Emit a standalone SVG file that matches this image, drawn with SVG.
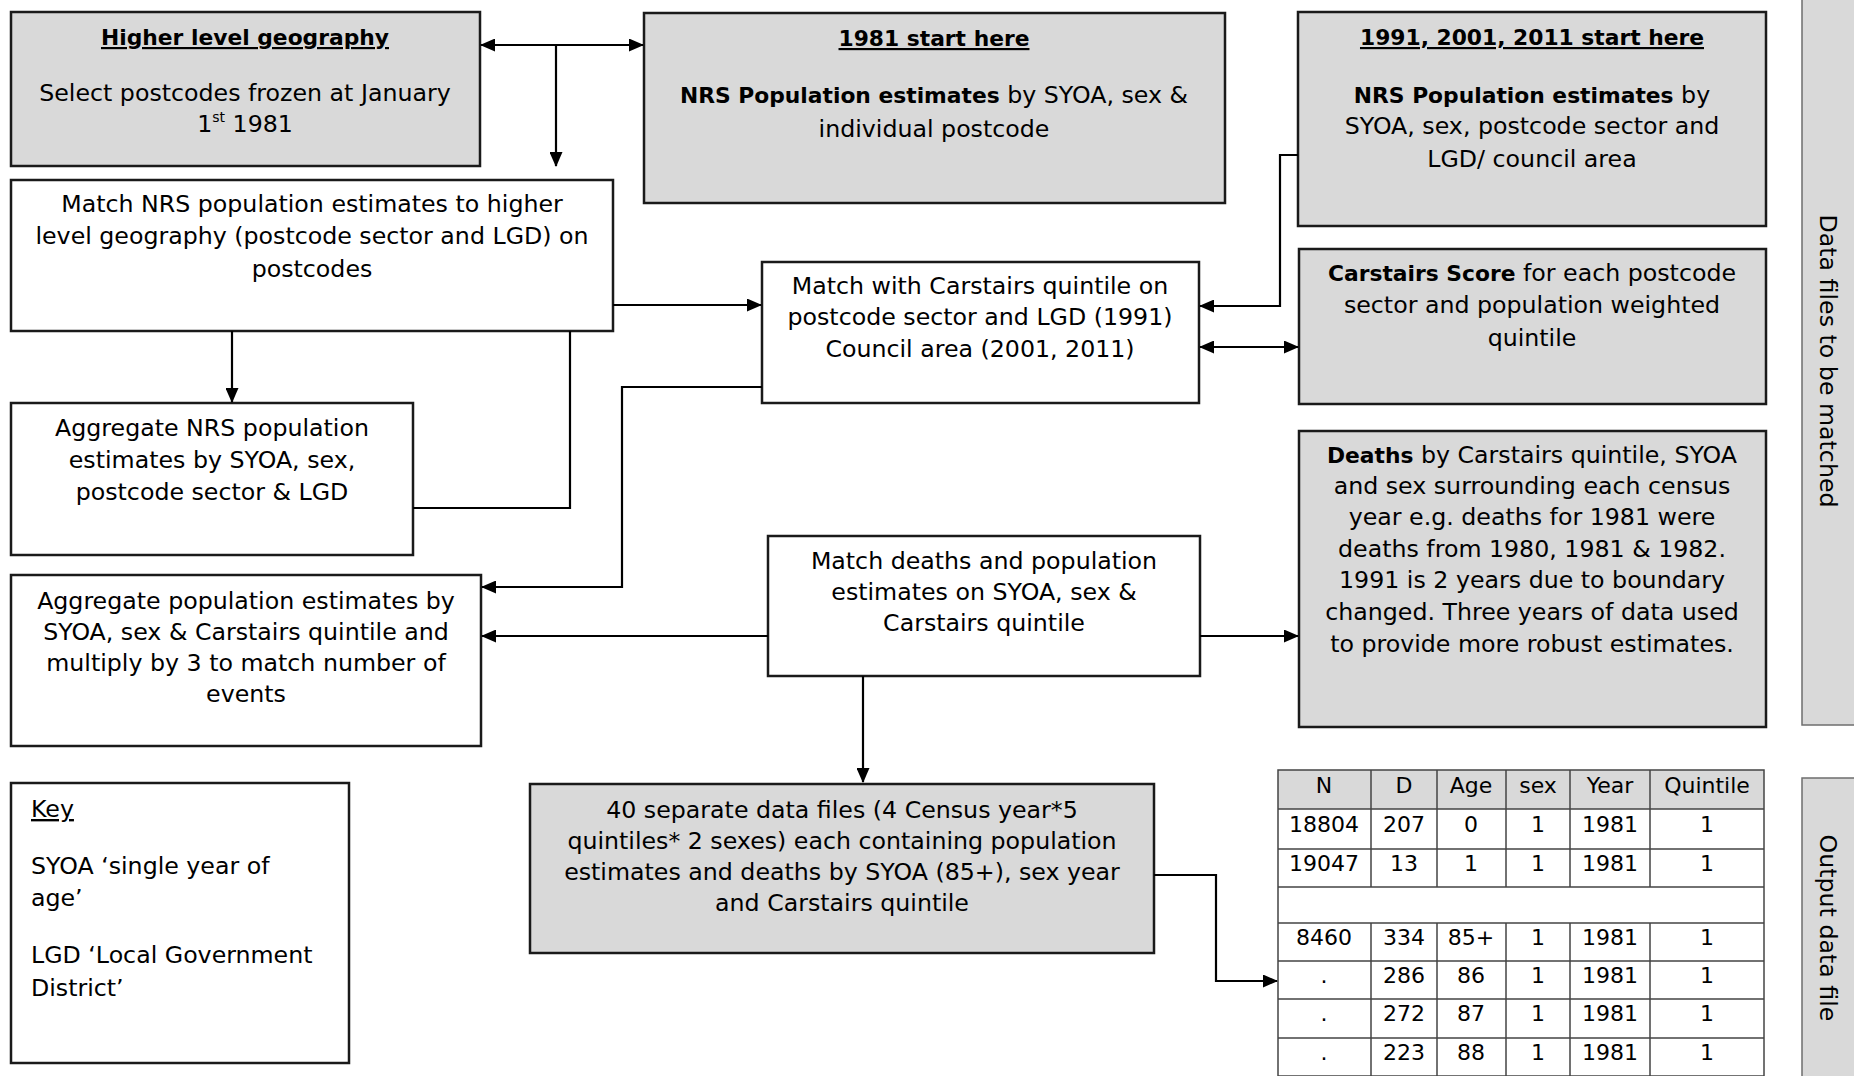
<svg xmlns="http://www.w3.org/2000/svg" width="1854" height="1076" viewBox="0 0 1854 1076">
<defs>
<marker id="ah" markerUnits="userSpaceOnUse" markerWidth="15" markerHeight="13" refX="14" refY="6.5" orient="auto-start-reverse">
<path d="M0,0 L15,6.5 L0,13 z" fill="#000"/>
</marker>
<style>
.box{stroke:#1a1a1a;stroke-width:2.5}
.g{fill:#d9d9d9}
.w{fill:#fff}
.side{fill:#d9d9d9;stroke:#6e6e6e;stroke-width:1.5}
text{font-family:"DejaVu Sans","Liberation Sans",sans-serif;font-size:23.7px;fill:#000}
.c{text-anchor:middle}
.b{font-weight:bold;font-size:21.8px}
.u{text-decoration:underline}
.con{fill:none;stroke:#000;stroke-width:2.2}
.tl{stroke:#444;stroke-width:1.5;fill:none}
.tt{font-size:22px;text-anchor:middle}
</style>
</defs>

<g id="side-data">
<rect class="side" x="1802" y="-2" width="62" height="727"/>
<text transform="translate(1828,361) rotate(90)" class="c" dominant-baseline="central" style="font-size:23.7px">Data files to be matched</text>
</g>
<g id="side-output">
<rect class="side" x="1802" y="778" width="62" height="310"/>
<text transform="translate(1828,928) rotate(90)" class="c" dominant-baseline="central" style="font-size:23.7px">Output data file</text>
</g>

<g id="nodeA">
<rect class="box g" x="11" y="12" width="469" height="154"/>
<text x="245" y="45" class="c b u">Higher level geography</text>
<text x="245" y="101" class="c">Select postcodes frozen at January</text>
<text x="245" y="132" class="c">1<tspan dy="-10" style="font-size:14px">st</tspan><tspan dy="10"> 1981</tspan></text>
</g>

<g id="nodeB">
<rect class="box g" x="644" y="13" width="581" height="190"/>
<text x="934" y="46" class="c b u">1981 start here</text>
<text x="934" y="103" class="c"><tspan class="b">NRS Population estimates</tspan> by SYOA, sex &amp;</text>
<text x="934" y="137" class="c">individual postcode</text>
</g>

<g id="nodeC">
<rect class="box g" x="1298" y="12" width="468" height="214"/>
<text x="1532" y="45" class="c b u">1991, 2001, 2011 start here</text>
<text x="1532" y="103" class="c"><tspan class="b">NRS Population estimates</tspan> by</text>
<text x="1532" y="134" class="c">SYOA, sex, postcode sector and</text>
<text x="1532" y="167" class="c">LGD/ council area</text>
</g>

<g id="nodeD">
<rect class="box w" x="11" y="180" width="602" height="151"/>
<text x="312" y="212" class="c">Match NRS population estimates to higher</text>
<text x="312" y="244" class="c">level geography (postcode sector and LGD) on</text>
<text x="312" y="277" class="c">postcodes</text>
</g>

<g id="nodeE">
<rect class="box w" x="11" y="403" width="402" height="152"/>
<text x="212" y="436" class="c">Aggregate NRS population</text>
<text x="212" y="468" class="c">estimates by SYOA, sex,</text>
<text x="212" y="500" class="c">postcode sector &amp; LGD</text>
</g>

<g id="nodeF">
<rect class="box w" x="11" y="575" width="470" height="171"/>
<text x="246" y="609" class="c">Aggregate population estimates by</text>
<text x="246" y="640" class="c">SYOA, sex &amp; Carstairs quintile and</text>
<text x="246" y="671" class="c">multiply by 3 to match number of</text>
<text x="246" y="702" class="c">events</text>
</g>

<g id="key">
<rect class="box w" x="11" y="783" width="338" height="280"/>
<text x="31" y="817" class="u">Key</text>
<text x="31" y="874">SYOA ‘single year of</text>
<text x="31" y="906">age’</text>
<text x="31" y="963">LGD ‘Local Government</text>
<text x="31" y="996">District’</text>
</g>

<g id="nodeG">
<rect class="box w" x="762" y="262" width="437" height="141"/>
<text x="980" y="294" class="c">Match with Carstairs quintile on</text>
<text x="980" y="325" class="c">postcode sector and LGD (1991)</text>
<text x="980" y="357" class="c">Council area (2001, 2011)</text>
</g>

<g id="nodeH">
<rect class="box w" x="768" y="536" width="432" height="140"/>
<text x="984" y="569" class="c">Match deaths and population</text>
<text x="984" y="600" class="c">estimates on SYOA, sex &amp;</text>
<text x="984" y="631" class="c">Carstairs quintile</text>
</g>

<g id="nodeI">
<rect class="box g" x="1299" y="249" width="467" height="155"/>
<text x="1532" y="281" class="c"><tspan class="b">Carstairs Score</tspan> for each postcode</text>
<text x="1532" y="313" class="c">sector and population weighted</text>
<text x="1532" y="346" class="c">quintile</text>
</g>

<g id="nodeJ">
<rect class="box g" x="1299" y="431" width="467" height="296"/>
<text x="1532" y="463" class="c"><tspan class="b">Deaths</tspan> by Carstairs quintile, SYOA</text>
<text x="1532" y="494" class="c">and sex surrounding each census</text>
<text x="1532" y="525" class="c">year e.g. deaths for 1981 were</text>
<text x="1532" y="557" class="c">deaths from 1980, 1981 &amp; 1982.</text>
<text x="1532" y="588" class="c">1991 is 2 years due to boundary</text>
<text x="1532" y="620" class="c">changed. Three years of data used</text>
<text x="1532" y="652" class="c">to provide more robust estimates.</text>
</g>

<g id="nodeK">
<rect class="box g" x="530" y="784" width="624" height="169"/>
<text x="842" y="818" class="c">40 separate data files (4 Census year*5</text>
<text x="842" y="849" class="c">quintiles* 2 sexes) each containing population</text>
<text x="842" y="880" class="c">estimates and deaths by SYOA (85+), sex year</text>
<text x="842" y="911" class="c">and Carstairs quintile</text>
</g>

<g id="table">
<rect x="1278" y="770" width="486" height="39" fill="#d9d9d9"/>
<rect class="tl" x="1278" y="770" width="486" height="306"/>
<path class="tl" d="M1278,809H1764M1278,849H1764M1278,887H1764M1278,923H1764M1278,961H1764M1278,999H1764M1278,1038H1764"/>
<path class="tl" d="M1371,770V887M1437,770V887M1506,770V887M1570,770V887M1650,770V887M1371,923V1076M1437,923V1076M1506,923V1076M1570,923V1076M1650,923V1076"/>
<text class="tt" x="1324" y="793">N</text><text class="tt" x="1404" y="793">D</text><text class="tt" x="1471" y="793">Age</text><text class="tt" x="1538" y="793">sex</text><text class="tt" x="1610" y="793">Year</text><text class="tt" x="1707" y="793">Quintile</text>
<text class="tt" x="1324" y="832">18804</text><text class="tt" x="1404" y="832">207</text><text class="tt" x="1471" y="832">0</text><text class="tt" x="1538" y="832">1</text><text class="tt" x="1610" y="832">1981</text><text class="tt" x="1707" y="832">1</text>
<text class="tt" x="1324" y="871">19047</text><text class="tt" x="1404" y="871">13</text><text class="tt" x="1471" y="871">1</text><text class="tt" x="1538" y="871">1</text><text class="tt" x="1610" y="871">1981</text><text class="tt" x="1707" y="871">1</text>
<text class="tt" x="1324" y="945">8460</text><text class="tt" x="1404" y="945">334</text><text class="tt" x="1471" y="945">85+</text><text class="tt" x="1538" y="945">1</text><text class="tt" x="1610" y="945">1981</text><text class="tt" x="1707" y="945">1</text>
<text class="tt" x="1324" y="983">.</text><text class="tt" x="1404" y="983">286</text><text class="tt" x="1471" y="983">86</text><text class="tt" x="1538" y="983">1</text><text class="tt" x="1610" y="983">1981</text><text class="tt" x="1707" y="983">1</text>
<text class="tt" x="1324" y="1021">.</text><text class="tt" x="1404" y="1021">272</text><text class="tt" x="1471" y="1021">87</text><text class="tt" x="1538" y="1021">1</text><text class="tt" x="1610" y="1021">1981</text><text class="tt" x="1707" y="1021">1</text>
<text class="tt" x="1324" y="1060">.</text><text class="tt" x="1404" y="1060">223</text><text class="tt" x="1471" y="1060">88</text><text class="tt" x="1538" y="1060">1</text><text class="tt" x="1610" y="1060">1981</text><text class="tt" x="1707" y="1060">1</text>
</g>

<g id="connectors">
<path class="con" d="M481,45H643" marker-start="url(#ah)" marker-end="url(#ah)"/>
<path class="con" d="M556,45V166" marker-end="url(#ah)"/>
<path class="con" d="M613,305H761" marker-end="url(#ah)"/>
<path class="con" d="M232,331V402" marker-end="url(#ah)"/>
<path class="con" d="M413,508H570V331"/>
<path class="con" d="M762,387H622V587H482" marker-end="url(#ah)"/>
<path class="con" d="M768,636H482" marker-end="url(#ah)"/>
<path class="con" d="M1200,636H1298" marker-end="url(#ah)"/>
<path class="con" d="M863,676V782" marker-end="url(#ah)"/>
<path class="con" d="M1298,155H1280V306H1200" marker-end="url(#ah)"/>
<path class="con" d="M1200,347H1298" marker-start="url(#ah)" marker-end="url(#ah)"/>
<path class="con" d="M1154,875H1216V981H1277" marker-end="url(#ah)"/>
</g>
</svg>
